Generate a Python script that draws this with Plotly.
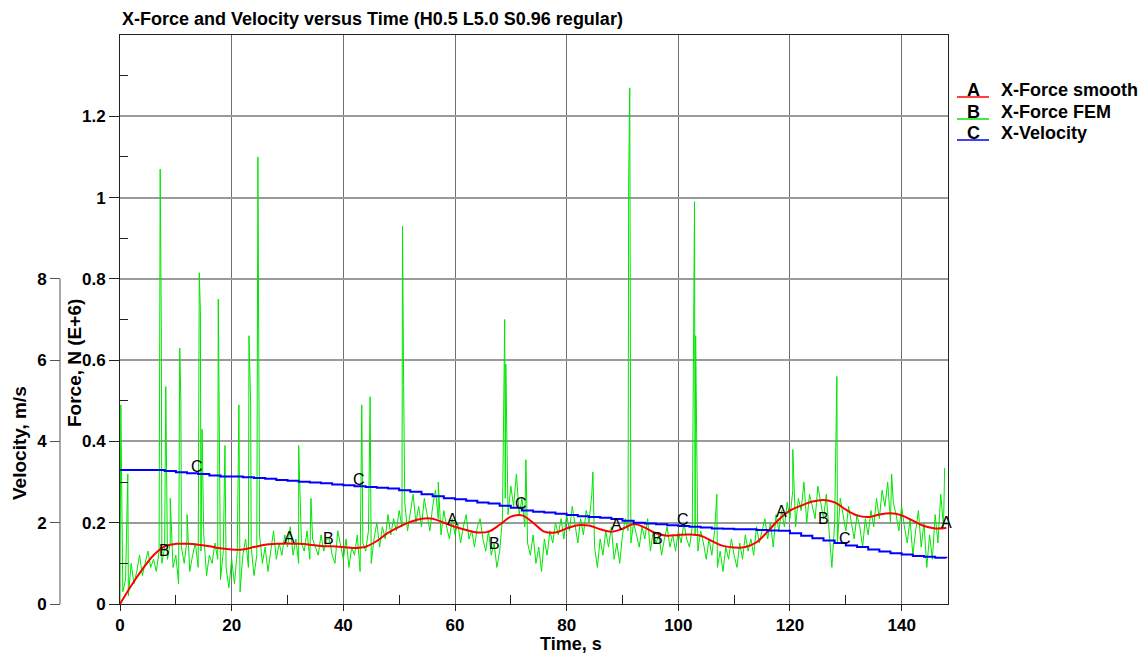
import numpy as np
import plotly.graph_objects as go

# ---------------- data ----------------
# FEM x-force (N, E+6) sampled every 0.5 s, plus short impact spikes
fem_dt = 0.5
fem_base = [
    0.00, 0.03, 0.06, 0.02, 0.10, 0.05, 0.08, 0.12, 0.07, 0.10, 0.13, 0.09, 0.11, 0.08, 0.13, 0.10, 0.14, 0.11, 0.15, 0.09,
    0.12, 0.05, 0.14, 0.10, 0.16, 0.08, 0.12, 0.15, 0.09, 0.13, 0.17, 0.07, 0.12, 0.10, 0.15, 0.11, 0.06, 0.13, 0.09, 0.04,
    0.11, 0.05, 0.13, 0.03, 0.12, 0.16, 0.09, 0.14, 0.07, 0.12, 0.17, 0.10, 0.14, 0.08, 0.13, 0.18, 0.11, 0.15, 0.12, 0.17,
    0.14, 0.19, 0.12, 0.16, 0.10, 0.15, 0.13, 0.18, 0.11, 0.16, 0.14, 0.12, 0.17, 0.13, 0.16, 0.16, 0.12, 0.10, 0.18, 0.14,
    0.11, 0.16, 0.09, 0.14, 0.12, 0.17, 0.08, 0.15, 0.13, 0.18, 0.10, 0.16, 0.20, 0.14, 0.19, 0.16, 0.22, 0.17, 0.21, 0.18,
    0.23, 0.19, 0.25, 0.18, 0.22, 0.27, 0.20, 0.24, 0.19, 0.26, 0.22, 0.18, 0.24, 0.28, 0.21, 0.17, 0.23, 0.19, 0.16, 0.21,
    0.17, 0.20, 0.15, 0.19, 0.22, 0.16, 0.18, 0.14, 0.19, 0.21, 0.16, 0.13, 0.18, 0.12, 0.15, 0.09, 0.13, 0.21, 0.26, 0.22,
    0.29, 0.24, 0.31, 0.22, 0.26, 0.19, 0.15, 0.12, 0.17, 0.10, 0.14, 0.08, 0.16, 0.12, 0.18, 0.15, 0.20, 0.17, 0.21, 0.16,
    0.22, 0.18, 0.24, 0.19, 0.15, 0.21, 0.17, 0.23, 0.20, 0.27, 0.14, 0.09, 0.16, 0.12, 0.18, 0.14, 0.19, 0.11, 0.15, 0.10,
    0.17, 0.21, 0.18, 0.15, 0.20, 0.17, 0.14, 0.19, 0.16, 0.21, 0.13, 0.18, 0.15, 0.17, 0.12, 0.16, 0.19, 0.14, 0.17, 0.13,
    0.18, 0.15, 0.20, 0.16, 0.14, 0.19, 0.17, 0.13, 0.18, 0.15, 0.11, 0.16, 0.12, 0.18, 0.09, 0.13, 0.08, 0.14, 0.11, 0.16,
    0.12, 0.09, 0.15, 0.11, 0.17, 0.13, 0.16, 0.12, 0.19, 0.15, 0.18, 0.21, 0.16, 0.20, 0.14, 0.22, 0.18, 0.23, 0.19, 0.25,
    0.21, 0.28, 0.19, 0.26, 0.23, 0.30, 0.20, 0.27, 0.24, 0.21, 0.29, 0.25, 0.21, 0.27, 0.18, 0.09, 0.20, 0.15, 0.26, 0.22,
    0.18, 0.24, 0.20, 0.16, 0.22, 0.19, 0.14, 0.21, 0.17, 0.23, 0.19, 0.26, 0.21, 0.28, 0.24, 0.30, 0.20, 0.25, 0.22, 0.18,
    0.24, 0.19, 0.15, 0.21, 0.12, 0.18, 0.23, 0.14, 0.20, 0.09, 0.17, 0.11, 0.22, 0.15, 0.27, 0.19,
]
spike_t = [0.15, 1.4, 7.2, 7.4, 8.2, 9.0, 10.7, 10.9, 12.0, 14.2, 14.4, 14.7, 17.6, 18.8,
           21.3, 23.1, 23.4, 24.7, 24.9, 32.0, 34.2, 43.3, 44.8, 50.6, 50.8, 57.0,
           68.9, 69.1, 71.0, 72.7, 84.7, 91.1, 91.3, 102.9, 103.1, 106.9, 120.5,
           128.4, 138.2, 147.7]
spike_v = [0.49, 0.32, 1.07, 0.68, 0.535, 0.26, 0.63, 0.50, 0.22, 0.815, 0.72, 0.43, 0.75, 0.39,
           0.49, 0.66, 0.49, 1.10, 0.58, 0.39, 0.26, 0.49, 0.51, 0.93, 0.54, 0.30,
           0.70, 0.59, 0.32, 0.355, 0.325, 1.03, 1.27, 0.99, 0.66, 0.27, 0.38,
           0.56, 0.32, 0.335]

# smoothed x-force and x-velocity, every 2 s
smooth_t = list(range(0, 150, 2))
force_smooth = [
    0.000, 0.045, 0.085, 0.120, 0.142, 0.148, 0.148, 0.146, 0.142, 0.137,
    0.134, 0.134, 0.140, 0.146, 0.148, 0.149, 0.148, 0.146, 0.143, 0.142,
    0.140, 0.138, 0.141, 0.155, 0.175, 0.190, 0.202, 0.210, 0.210, 0.200,
    0.190, 0.182, 0.176, 0.178, 0.195, 0.215, 0.218, 0.200, 0.178, 0.176,
    0.186, 0.194, 0.193, 0.184, 0.178, 0.185, 0.197, 0.188, 0.174, 0.168,
    0.170, 0.171, 0.168, 0.155, 0.143, 0.139, 0.140, 0.152, 0.178, 0.208,
    0.230, 0.242, 0.252, 0.256, 0.250, 0.232, 0.218, 0.214, 0.220, 0.223,
    0.218, 0.205, 0.192, 0.186, 0.187,
]
velocity = [
    3.30, 3.30, 3.30, 3.30, 3.27, 3.24, 3.22, 3.20, 3.16, 3.14,
    3.14, 3.12, 3.10, 3.08, 3.05, 3.03, 3.01, 2.99, 2.97, 2.94,
    2.92, 2.90, 2.88, 2.86, 2.84, 2.80, 2.76, 2.70, 2.65, 2.60,
    2.58, 2.54, 2.50, 2.47, 2.42, 2.37, 2.30, 2.27, 2.25, 2.22,
    2.19, 2.16, 2.14, 2.12, 2.09, 2.05, 2.00, 1.98, 1.96, 1.94,
    1.92, 1.90, 1.88, 1.86, 1.85, 1.84, 1.84, 1.82, 1.81, 1.80,
    1.74, 1.68, 1.62, 1.56, 1.50, 1.44, 1.40, 1.34, 1.29, 1.25,
    1.22, 1.18, 1.16, 1.14, 1.13,
]

# curve identification letters
label_A_t = [30.3, 59.6, 89.0, 118.5, 148.0]
label_B_t = [7.9, 37.4, 67.0, 96.3, 126.0]
label_C_t = [13.8, 42.8, 71.8, 100.8, 129.8]

force_ticks = [0, 0.2, 0.4, 0.6, 0.8, 1.0, 1.2]
force_minor = [0.1, 0.3, 0.5, 0.7, 0.9, 1.1, 1.3]
velocity_ticks = [0, 2, 4, 6, 8]
time_ticks = [0, 20, 40, 60, 80, 100, 120, 140]
time_minor = [10, 30, 50, 70, 90, 110, 130]

# ---------------- build series ----------------
base_t = np.arange(len(fem_base)) * fem_dt
fem_t = np.concatenate([base_t, spike_t])
fem_v = np.concatenate([fem_base, spike_v])
order = np.argsort(fem_t, kind="stable")
fem_t, fem_v = fem_t[order], fem_v[order]

# ---------------- layout geometry (pixels) ----------------
W, H = 1146, 653
ML, MR, MT, MB = 60, 198, 35, 49
PW, PH = W - ML - MR, H - MT - MB
PLOT_LEFT = 120
FORCE_TOP = 1.4
VEL_TOP = FORCE_TOP * 10   # 1 m/s drawn at the same height as 0.1 force units


def px(x):
    return (x - ML) / PW


def py(y):
    return (H - MB - y) / PH


FONT = "Liberation Sans, Arial, sans-serif"
RED, GREEN, BLUE = "#ff0000", "#00e600", "#0000ff"

fig = go.Figure()
fig.add_trace(go.Scatter(x=fem_t, y=fem_v, mode="lines", line=dict(color=GREEN, width=1),
                         name="X-Force FEM", yaxis="y"))
fig.add_trace(go.Scatter(x=smooth_t, y=force_smooth, mode="lines", line=dict(color=RED, width=2, shape="spline"),
                         name="X-Force smooth", yaxis="y"))
fig.add_trace(go.Scatter(x=smooth_t, y=velocity, mode="lines", line=dict(color=BLUE, width=2, shape="hv"),
                         name="X-Velocity", yaxis="y3"))

tickfont = dict(family=FONT, size=17, color="black", weight="bold")

fig.update_layout(
    width=W, height=H,
    margin=dict(l=ML, r=MR, t=MT, b=MB),
    paper_bgcolor="white", plot_bgcolor="white",
    showlegend=False,
    title=dict(text="X-Force and Velocity versus Time (H0.5 L5.0 S0.96 regular)",
               x=122 / W, xanchor="left", xref="container",
               y=1 - 19 / H, yanchor="middle", yref="container",
               font=dict(family=FONT, size=18, color="black", weight="bold")),
    xaxis=dict(domain=[px(PLOT_LEFT), 1], range=[0, 148.3],
               tickvals=time_ticks, ticks="outside", ticklen=6, tickcolor="#222",
               showline=True, linecolor="#222", linewidth=1, mirror=True,
               showgrid=True, gridcolor="#707070", gridwidth=1,
               zeroline=False, tickfont=tickfont,
               minor=dict(tickvals=time_minor, ticks="inside", ticklen=9, tickcolor="#222", showgrid=False)),
    yaxis=dict(range=[0, FORCE_TOP], tickvals=force_ticks, ticktext=["0", "0.2", "0.4", "0.6", "0.8", "1", "1.2"],
               ticks="outside", ticklen=10, tickcolor="#222",
               showline=True, linecolor="#222", linewidth=1, mirror=True,
               showgrid=True, gridcolor="#9a9a9a", gridwidth=1.5,
               zeroline=False, tickfont=tickfont, anchor="x",
               minor=dict(tickvals=force_minor, ticks="inside", ticklen=8, tickcolor="#222", showgrid=False)),
    yaxis3=dict(range=[0, VEL_TOP], anchor="free", position=0, overlaying="y",
                tickvals=velocity_ticks, ticks="outside", ticklen=10, tickcolor="#555",
                showline=False, showgrid=False, zeroline=False, tickfont=tickfont),
)

# velocity axis line, drawn only over its labelled span
fig.add_shape(type="line", xref="paper", yref="y3", x0=0, x1=0,
              y0=velocity_ticks[0], y1=velocity_ticks[-1], line=dict(color="#555", width=1))

# axis titles
title_font = dict(family=FONT, size=19, color="black", weight="bold")
fig.add_annotation(text="Time, s", x=px(571), y=py(644), xref="paper", yref="paper",
                   showarrow=False, font=dict(family=FONT, size=18, color="black", weight="bold"),
                   xanchor="center", yanchor="middle")
fig.add_annotation(text="Force, N (E+6)", x=px(74), y=py(363), xref="paper", yref="paper",
                   showarrow=False, font=title_font, textangle=-90, xanchor="center", yanchor="middle")
fig.add_annotation(text="Velocity, m/s", x=px(20), y=py(443), xref="paper", yref="paper",
                   showarrow=False, font=title_font, textangle=-90, xanchor="center", yanchor="middle")

# letters marking the curves
letter_font = dict(family=FONT, size=16, color="black")
for t in label_A_t:
    fig.add_annotation(text="A", x=t, y=float(np.interp(t, smooth_t, force_smooth)), xref="x", yref="y",
                       showarrow=False, font=letter_font, yshift=6)
for t in label_B_t:
    fig.add_annotation(text="B", x=t, y=float(np.interp(t, base_t, fem_base)), xref="x", yref="y",
                       showarrow=False, font=letter_font)
for t in label_C_t:
    fig.add_annotation(text="C", x=t, y=float(np.interp(t, smooth_t, velocity)), xref="x", yref="y3",
                       showarrow=False, font=letter_font, yshift=7)

# legend drawn beside the plot
legend_rows = [("A", "X-Force smooth", RED, 90, 97),
               ("B", "X-Force FEM", GREEN, 112, 119),
               ("C", "X-Velocity", BLUE, 133, 140)]
leg_font = dict(family=FONT, size=18, color="black", weight="bold")
for letter, text, color, ytext, yline in legend_rows:
    fig.add_shape(type="line", xref="paper", yref="paper",
                  x0=px(957), x1=px(989), y0=py(yline), y1=py(yline),
                  line=dict(color=color, width=1.5))
    fig.add_annotation(text=letter, x=px(973), y=py(ytext), xref="paper", yref="paper",
                       showarrow=False, font=leg_font, xanchor="center", yanchor="middle")
    fig.add_annotation(text=text, x=px(999), y=py(ytext), xref="paper", yref="paper",
                       showarrow=False, font=leg_font, xanchor="left", yanchor="middle")

fig.write_html("out.html")
